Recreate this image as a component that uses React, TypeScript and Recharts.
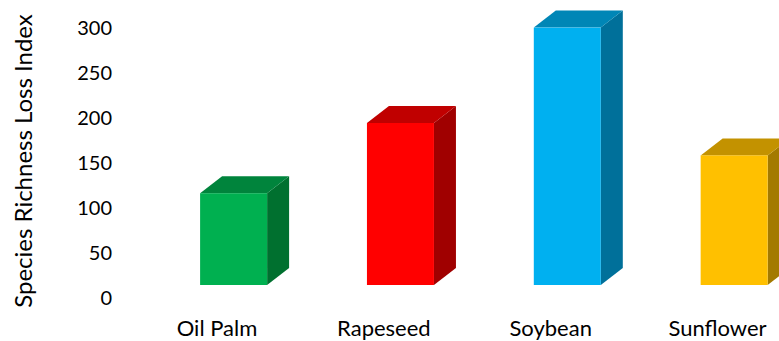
import React from "react";
import { BarChart, Bar, XAxis, YAxis, Label } from "recharts";

const crops = ["Oil Palm", "Rapeseed", "Soybean", "Sunflower"];
const lossIndex = [102, 180, 286, 144];
const yTicks = [0, 50, 100, 150, 200, 250, 300];

const frontColors = ["#00B050", "#FF0000", "#00B0F0", "#FFC000"];
const topColors = ["#00843C", "#C00000", "#0086B6", "#C39200"];
const sideColors = ["#00702F", "#A00000", "#00709A", "#A37A00"];

const data = crops.map((name, i) => ({ name, value: lossIndex[i] }));

// the box sits back from the floor's front edge, and has a fixed depth
const SHIFT_X = 16.5;
const SHIFT_Y = 13;
const DEPTH_X = 22;
const DEPTH_Y = 17;

function Box3D(props: any) {
  const { x, y, width, height, index } = props;
  const fx = x + SHIFT_X;
  const fy = y - SHIFT_Y;
  const w = width;
  const h = height;
  const top = `${fx},${fy} ${fx + DEPTH_X},${fy - DEPTH_Y} ${fx + w + DEPTH_X},${fy - DEPTH_Y} ${fx + w},${fy}`;
  const side = `${fx + w},${fy} ${fx + w + DEPTH_X},${fy - DEPTH_Y} ${fx + w + DEPTH_X},${fy + h - DEPTH_Y} ${fx + w},${fy + h}`;
  return (
    <g>
      <polygon points={side} fill={sideColors[index]} />
      <polygon points={top} fill={topColors[index]} />
      <rect x={fx} y={fy} width={w} height={h} fill={frontColors[index]} />
    </g>
  );
}

function AxisTitle({ viewBox }: any) {
  const cx = viewBox.x + 22;
  const cy = viewBox.y + viewBox.height / 2 - 2;
  return (
    <text
      x={cx}
      y={cy}
      transform={`rotate(-90 ${cx} ${cy})`}
      textAnchor="middle"
      dominantBaseline="central"
      fontSize={24}
      fill="#000"
    >
      Species Richness Loss Index
    </text>
  );
}

export default function App() {
  return (
    <div
      style={{
        position: "fixed",
        left: 0,
        top: 0,
        width: 779,
        height: 341,
        overflow: "hidden",
        background: "#fff",
        fontFamily: "Lato",
      }}
    >
      <BarChart
        width={801}
        height={341}
        data={data}
        margin={{ top: 28, right: 0, bottom: 0, left: 0 }}
      >
        <XAxis
          dataKey="name"
          axisLine={false}
          tickLine={false}
          tickSize={0}
          tickMargin={22}
          height={43}
          tick={{ fontSize: 22, fill: "#000" }}
          interval={0}
        />
        <YAxis
          width={133.6}
          domain={[0, 300]}
          ticks={yTicks}
          axisLine={false}
          tickLine={false}
          tickSize={0}
          tickMargin={21.6}
          tick={{ fontSize: 20, fill: "#000" }}
        >
          <Label content={AxisTitle} />
        </YAxis>
        <Bar
          dataKey="value"
          barSize={67}
          shape={Box3D}
          isAnimationActive={false}
        />
      </BarChart>
    </div>
  );
}
